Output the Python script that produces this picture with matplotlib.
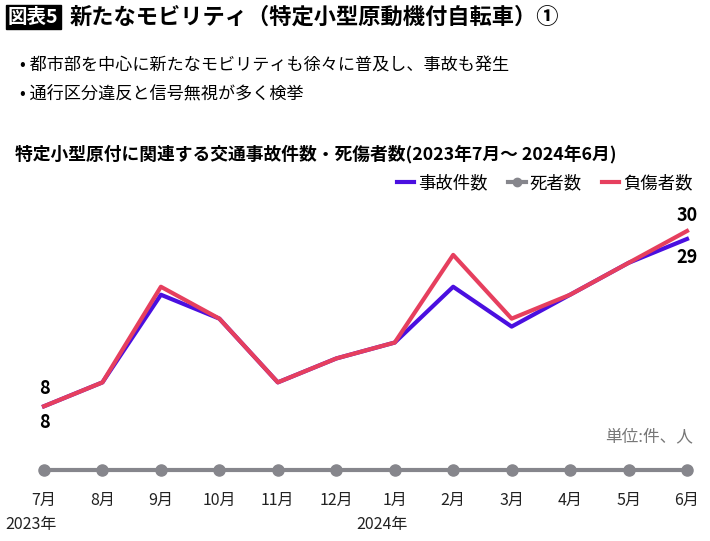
import matplotlib.pyplot as plt
from matplotlib.lines import Line2D

plt.rcParams['font.family'] = ['Noto Sans CJK JP', 'DejaVu Sans']

# data
months = ['7月', '8月', '9月', '10月', '11月', '12月', '1月', '2月', '3月', '4月', '5月', '6月']
accidents = [8, 11, 22, 19, 11, 14, 16, 23, 18, 22, 26, 29]
deaths = [0, 0, 0, 0, 0, 0, 0, 0, 0, 0, 0, 0]
injured = [8, 11, 23, 19, 11, 14, 16, 27, 19, 22, 26, 30]

blue = '#4A0FE0'
red = '#E63F5E'
gray = '#86868C'

W, H = 710, 541
fig = plt.figure(figsize=(7.1, 5.41), dpi=100)

# axes placed so that 0 sits at y=470px and 30 at y=231px
ax = fig.add_axes([44 / W, (H - 470) / H, (687 - 44) / W, (470 - 231) / H])
x = list(range(len(months)))
ax.plot(x, deaths, color=gray, lw=3, marker='o', ms=8, clip_on=False, zorder=2)
ax.plot(x, accidents, color=blue, lw=3, clip_on=False, zorder=3)
ax.plot(x, injured, color=red, lw=3, clip_on=False, zorder=4)
ax.set_xlim(0, 11)
ax.set_ylim(0, 30)
ax.axis('off')

# month and year labels
for i, m in enumerate(months):
    ax.text(i, -3.8, m, ha='center', va='center', fontsize=11.5, color='#222222')
ax.text(-0.22, -6.8, '2023年', ha='center', va='center', fontsize=11.5, color='#222222')
ax.text(5.78, -6.8, '2024年', ha='center', va='center', fontsize=11.5, color='#222222')

# value labels
ax.text(0, 10.2, str(injured[0]), ha='center', va='center', fontsize=13, fontweight='bold')
ax.text(0, 5.9, str(accidents[0]), ha='center', va='center', fontsize=13, fontweight='bold')
ax.text(11, 32.0, str(injured[-1]), ha='center', va='center', fontsize=13, fontweight='bold')
ax.text(11, 26.7, str(accidents[-1]), ha='center', va='center', fontsize=13, fontweight='bold')
ax.text(11.1, 4.2, '単位:件、人', ha='right', va='center', fontsize=12, color='#777777')

# legend
handles = [Line2D([], [], color=blue, lw=3),
           Line2D([], [], color=gray, lw=3, marker='o', ms=6),
           Line2D([], [], color=red, lw=3)]
fig.legend(handles, ['事故件数', '死者数', '負傷者数'], loc='center right',
           bbox_to_anchor=(708 / W, 1 - 183 / H), ncol=3, frameon=False,
           fontsize=12.5, handlelength=1.0, handletextpad=0.2, columnspacing=1.2)

# titles
fig.text(8 / W, 1 - 17 / H, '図表5', ha='left', va='center', fontsize=14, fontweight='bold',
         color='white', bbox=dict(boxstyle='square,pad=0.12', fc='black', ec='black'))
fig.text(70 / W, 1 - 17 / H, '新たなモビリティ（特定小型原動機付自転車）①', ha='left', va='center',
         fontsize=16, fontweight='bold')
fig.text(20 / W, 1 - 66 / H, '• 都市部を中心に新たなモビリティも徐々に普及し、事故も発生', ha='left',
         va='center', fontsize=12.3)
fig.text(20 / W, 1 - 94 / H, '• 通行区分違反と信号無視が多く検挙', ha='left', va='center', fontsize=12.3)
fig.text(15 / W, 1 - 154 / H, '特定小型原付に関連する交通事故件数・死傷者数(2023年7月～ 2024年6月)',
         ha='left', va='center', fontsize=12.8, fontweight='bold')

fig.savefig('out.png', dpi=100)
